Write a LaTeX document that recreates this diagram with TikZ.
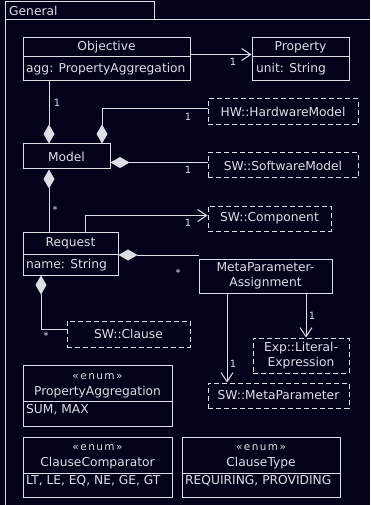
\documentclass[tikz,border=0pt]{standalone}
\usepackage{fontspec}
\setmainfont{DejaVu Sans}
\usetikzlibrary{arrows.meta,fit}
\definecolor{bg}{RGB}{3,2,27}
\definecolor{fg}{RGB}{222,222,230}
\tikzset{
  cls/.style={draw=fg, line width=1bp, inner sep=0pt},
  ext/.style={cls, dash pattern=on 5bp off 3bp},
  txt/.style={text=fg, inner sep=0pt, font=\fontsize{12.3}{14.5}\selectfont},
  stereo/.style={text=fg, inner sep=0pt, font=\fontsize{10.5}{13}\selectfont\addfontfeature{LetterSpace=14}},
  mult/.style={text=fg, inner sep=0pt, font=\fontsize{10}{12}\selectfont},
  link/.style={draw=fg, line width=1bp},
  nav/.style={link, arrows={-Straight Barb[length=9bp,width=12bp]}},
  comp/.style={link, arrows={Diamond[length=19bp,width=11bp]-}}
}
\begin{document}
\begin{tikzpicture}[x=1bp,y=-1bp]
  \fill[bg] (0,0) rectangle (370,505);
  \useasboundingbox (0,0) rectangle (370,505);
  % package frame
  \draw[link] (5,20) rectangle (154,2);
  \draw[link] (370,20) -- (5,20) -- (5,505);
  \node[txt, anchor=west] (pkg) at (9,11) {General};

  % classes
  \node[cls, fit={(23,38) (190,81)}] (obj) {};
  \draw[link] (obj.west |- 0,57) -- (obj.east |- 0,57);
  \node[txt] (objT) at (106.5,47.5) {Objective};
  \node[txt, anchor=west] (objA) at (26,69) {agg: PropertyAggregation};

  \node[cls, fit={(252,38) (349,81)}] (prop) {};
  \draw[link] (prop.west |- 0,57) -- (prop.east |- 0,57);
  \node[txt] (propT) at (300.5,47.5) {Property};
  \node[txt, anchor=west] (propA) at (256,69) {unit: String};

  \node[cls, fit={(23,144) (110,169)}] (model) {};
  \node[txt] (modelT) at (model.center) {Model};

  \node[cls, fit={(23,232) (118,275)}] (req) {};
  \draw[link] (req.west |- 0,254) -- (req.east |- 0,254);
  \node[txt] (reqT) at (70.5,243) {Request};
  \node[txt, anchor=west] (reqA) at (26,265) {name: String};

  \node[cls, fit={(199,259) (332,293)}] (mpa) {};
  \node[txt, align=center] (mpaT) at (mpa.center) {MetaParameter-\\Assignment};

  % external types
  \node[ext, fit={(208,99) (358,125)}] (hw) {};
  \node[txt] (hwT) at (hw.center) {HW::HardwareModel};
  \node[ext, fit={(208,153) (358,178)}] (sw) {};
  \node[txt] (swT) at (sw.center) {SW::SoftwareModel};
  \node[ext, fit={(208,206) (331,231)}] (comp) {};
  \node[txt] (compT) at (comp.center) {SW::Component};
  \node[ext, fit={(67,321) (190,347)}] (clause) {};
  \node[txt] (clauseT) at (clause.center) {SW::Clause};
  \node[ext, fit={(253,338) (349,373)}] (lit) {};
  \node[txt, align=center] (litT) at (lit.center) {Exp::Literal-\\Expression};
  \node[ext, fit={(208,383) (349,408)}] (mp) {};
  \node[txt] (mpT) at (mp.center) {SW::MetaParameter};

  % enumerations
  \node[cls, fit={(23,365) (172,426)}] (agg) {};
  \draw[link] (agg.west |- 0,401) -- (agg.east |- 0,401);
  \node[stereo] (aggS) at (97.5,377) {«enum»};
  \node[txt] (aggT) at (97.5,392) {PropertyAggregation};
  \node[txt, anchor=west] (aggL) at (26,410) {SUM, MAX};

  \node[cls, fit={(23,437) (172,497)}] (cmp) {};
  \draw[link] (cmp.west |- 0,473) -- (cmp.east |- 0,473);
  \node[stereo] (cmpS) at (97.5,448) {«enum»};
  \node[txt] (cmpT) at (97.5,463) {ClauseComparator};
  \node[txt, anchor=west] (cmpL) at (26,481) {LT, LE, EQ, NE, GE, GT};

  \node[cls, fit={(182,437) (340,497)}] (ctype) {};
  \draw[link] (ctype.west |- 0,473) -- (ctype.east |- 0,473);
  \node[stereo] (ctypeS) at (261,448) {«enum»};
  \node[txt] (ctypeT) at (261,463) {ClauseType};
  \node[txt, anchor=west] (ctypeL) at (185,481) {REQUIRING, PROVIDING};

  % associations
  \draw[nav] ([yshift=5bp]obj.east) -- ([yshift=5bp]prop.west);
  \node[mult] (m1) at (233,62) {1};
  \draw[comp] (model.north -| 49,0) -- (obj.south -| 49,0);
  \node[mult] (m2) at (57,103) {1};
  \draw[comp] (model.north -| 102,0) |- ([yshift=3bp]hw.west);
  \node[mult] (m3) at (188,117) {1};
  \draw[comp] ([yshift=-6bp]model.east) -- ([yshift=-6bp]model.east -| sw.west);
  \node[mult] (m4) at (188,170) {1};
  \draw[comp] (model.south -| 49,0) -- (req.north -| 49,0);
  \node[mult] (m5) at (55,210) {*};
  \draw[nav] (req.north -| 85,0) |- ([yshift=3bp]comp.west);
  \node[mult] (m6) at (188,223) {1};
  \draw[comp] ([yshift=-1.5bp]req.east) -- ([yshift=-1.5bp]req.east -| mpa.west);
  \node[mult] (m7) at (178,273) {*};
  \draw[comp] (req.south -| 41,0) |- ([yshift=5bp]clause.west);
  \node[mult] (m8) at (46,336) {*};
  \draw[nav] (mpa.south -| 306,0) -- (lit.north -| 306,0);
  \node[mult] (m9) at (312,316) {1};
  \draw[nav] (mpa.south -| 227,0) -- (mp.north -| 227,0);
  \node[mult] (m10) at (233,364) {1};
\end{tikzpicture}
\end{document}
